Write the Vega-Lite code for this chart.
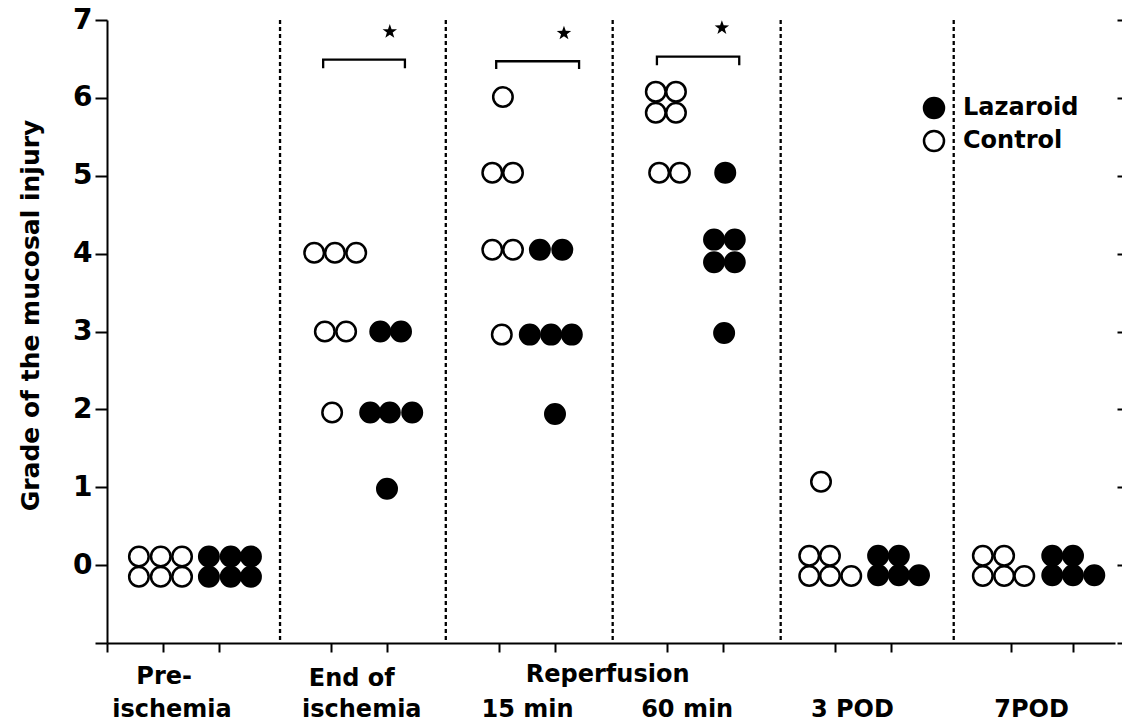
{
  "$schema": "https://vega.github.io/schema/vega-lite/v6.json",
  "width": 1008,
  "height": 623,
  "autosize": {"type": "none"},
  "padding": {"left": 107, "top": 20, "right": 7, "bottom": 85},
  "background": "white",
  "config": {"font": "DejaVu Sans", "view": {"stroke": null}},
  "datasets": {
    "points": [
      {"period": "Pre-ischemia", "group": "Control", "x": 0.57, "y": 0.11},
      {"period": "Pre-ischemia", "group": "Control", "x": 0.96, "y": 0.11},
      {"period": "Pre-ischemia", "group": "Control", "x": 1.34, "y": 0.11},
      {"period": "Pre-ischemia", "group": "Control", "x": 0.57, "y": -0.15},
      {"period": "Pre-ischemia", "group": "Control", "x": 0.96, "y": -0.15},
      {"period": "Pre-ischemia", "group": "Control", "x": 1.34, "y": -0.15},
      {"period": "Pre-ischemia", "group": "Lazaroid", "x": 1.82, "y": 0.11},
      {"period": "Pre-ischemia", "group": "Lazaroid", "x": 2.21, "y": 0.11},
      {"period": "Pre-ischemia", "group": "Lazaroid", "x": 2.57, "y": 0.11},
      {"period": "Pre-ischemia", "group": "Lazaroid", "x": 1.82, "y": -0.15},
      {"period": "Pre-ischemia", "group": "Lazaroid", "x": 2.21, "y": -0.15},
      {"period": "Pre-ischemia", "group": "Lazaroid", "x": 2.57, "y": -0.15},
      {"period": "End of ischemia", "group": "Control", "x": 3.70, "y": 4.01},
      {"period": "End of ischemia", "group": "Control", "x": 4.07, "y": 4.01},
      {"period": "End of ischemia", "group": "Control", "x": 4.45, "y": 4.01},
      {"period": "End of ischemia", "group": "Control", "x": 3.89, "y": 3.0},
      {"period": "End of ischemia", "group": "Control", "x": 4.27, "y": 3.0},
      {"period": "End of ischemia", "group": "Control", "x": 4.02, "y": 1.96},
      {"period": "End of ischemia", "group": "Lazaroid", "x": 4.88, "y": 3.0},
      {"period": "End of ischemia", "group": "Lazaroid", "x": 5.25, "y": 3.0},
      {"period": "End of ischemia", "group": "Lazaroid", "x": 4.70, "y": 1.96},
      {"period": "End of ischemia", "group": "Lazaroid", "x": 5.05, "y": 1.96},
      {"period": "End of ischemia", "group": "Lazaroid", "x": 5.45, "y": 1.96},
      {"period": "End of ischemia", "group": "Lazaroid", "x": 5.0, "y": 0.98},
      {"period": "15 min", "group": "Control", "x": 7.07, "y": 6.01},
      {"period": "15 min", "group": "Control", "x": 6.88, "y": 5.04},
      {"period": "15 min", "group": "Control", "x": 7.25, "y": 5.04},
      {"period": "15 min", "group": "Control", "x": 6.88, "y": 4.05},
      {"period": "15 min", "group": "Control", "x": 7.25, "y": 4.05},
      {"period": "15 min", "group": "Control", "x": 7.05, "y": 2.96},
      {"period": "15 min", "group": "Lazaroid", "x": 7.73, "y": 4.05},
      {"period": "15 min", "group": "Lazaroid", "x": 8.13, "y": 4.05},
      {"period": "15 min", "group": "Lazaroid", "x": 7.55, "y": 2.96},
      {"period": "15 min", "group": "Lazaroid", "x": 7.93, "y": 2.96},
      {"period": "15 min", "group": "Lazaroid", "x": 8.30, "y": 2.96},
      {"period": "15 min", "group": "Lazaroid", "x": 8.0, "y": 1.94},
      {"period": "60 min", "group": "Control", "x": 9.80, "y": 6.08},
      {"period": "60 min", "group": "Control", "x": 10.16, "y": 6.08},
      {"period": "60 min", "group": "Control", "x": 9.80, "y": 5.81},
      {"period": "60 min", "group": "Control", "x": 10.16, "y": 5.81},
      {"period": "60 min", "group": "Control", "x": 9.86, "y": 5.04},
      {"period": "60 min", "group": "Control", "x": 10.23, "y": 5.04},
      {"period": "60 min", "group": "Lazaroid", "x": 11.04, "y": 5.04},
      {"period": "60 min", "group": "Lazaroid", "x": 10.84, "y": 4.18},
      {"period": "60 min", "group": "Lazaroid", "x": 11.21, "y": 4.18},
      {"period": "60 min", "group": "Lazaroid", "x": 10.84, "y": 3.89},
      {"period": "60 min", "group": "Lazaroid", "x": 11.21, "y": 3.89},
      {"period": "60 min", "group": "Lazaroid", "x": 11.02, "y": 2.98},
      {"period": "3 POD", "group": "Control", "x": 12.75, "y": 1.07},
      {"period": "3 POD", "group": "Control", "x": 12.54, "y": 0.12},
      {"period": "3 POD", "group": "Control", "x": 12.91, "y": 0.12},
      {"period": "3 POD", "group": "Control", "x": 12.54, "y": -0.14},
      {"period": "3 POD", "group": "Control", "x": 12.91, "y": -0.14},
      {"period": "3 POD", "group": "Control", "x": 13.29, "y": -0.14},
      {"period": "3 POD", "group": "Lazaroid", "x": 13.77, "y": 0.12},
      {"period": "3 POD", "group": "Lazaroid", "x": 14.14, "y": 0.12},
      {"period": "3 POD", "group": "Lazaroid", "x": 13.77, "y": -0.13},
      {"period": "3 POD", "group": "Lazaroid", "x": 14.14, "y": -0.13},
      {"period": "3 POD", "group": "Lazaroid", "x": 14.5, "y": -0.13},
      {"period": "7POD", "group": "Control", "x": 15.64, "y": 0.12},
      {"period": "7POD", "group": "Control", "x": 16.02, "y": 0.12},
      {"period": "7POD", "group": "Control", "x": 15.64, "y": -0.14},
      {"period": "7POD", "group": "Control", "x": 16.02, "y": -0.14},
      {"period": "7POD", "group": "Control", "x": 16.38, "y": -0.14},
      {"period": "7POD", "group": "Lazaroid", "x": 16.88, "y": 0.12},
      {"period": "7POD", "group": "Lazaroid", "x": 17.25, "y": 0.12},
      {"period": "7POD", "group": "Lazaroid", "x": 16.88, "y": -0.13},
      {"period": "7POD", "group": "Lazaroid", "x": 17.25, "y": -0.13},
      {"period": "7POD", "group": "Lazaroid", "x": 17.63, "y": -0.13}
    ],
    "brackets": [
      {"id": "end", "order": 1, "x": 3.86, "y": 6.38},
      {"id": "end", "order": 2, "x": 3.86, "y": 6.49},
      {"id": "end", "order": 3, "x": 5.32, "y": 6.49},
      {"id": "end", "order": 4, "x": 5.32, "y": 6.38},
      {"id": "r15", "order": 1, "x": 6.95, "y": 6.37},
      {"id": "r15", "order": 2, "x": 6.95, "y": 6.47},
      {"id": "r15", "order": 3, "x": 8.43, "y": 6.47},
      {"id": "r15", "order": 4, "x": 8.43, "y": 6.37},
      {"id": "r60", "order": 1, "x": 9.82, "y": 6.42},
      {"id": "r60", "order": 2, "x": 9.82, "y": 6.53},
      {"id": "r60", "order": 3, "x": 11.29, "y": 6.53},
      {"id": "r60", "order": 4, "x": 11.29, "y": 6.42}
    ],
    "stars": [
      {"x": 5.05, "y": 6.85},
      {"x": 8.16, "y": 6.83},
      {"x": 10.98, "y": 6.90}
    ],
    "dividers": [
      {"x": 3.09}, {"x": 6.05}, {"x": 9.03}, {"x": 12.03}, {"x": 15.12}
    ],
    "labels": [
      {"text": "Pre-", "x": 1.02, "y": -1.53},
      {"text": "ischemia", "x": 1.16, "y": -1.95},
      {"text": "End of", "x": 4.37, "y": -1.55},
      {"text": "ischemia", "x": 4.55, "y": -1.95},
      {"text": "Reperfusion", "x": 8.94, "y": -1.5},
      {"text": "15 min", "x": 7.51, "y": -1.95},
      {"text": "60 min", "x": 10.36, "y": -1.95},
      {"text": "3 POD", "x": 13.31, "y": -1.95},
      {"text": "7POD", "x": 16.51, "y": -1.95}
    ]
  },
  "layer": [
    {
      "data": {"name": "dividers"},
      "mark": {"type": "rule", "color": "black", "strokeWidth": 2.3, "strokeDash": [4, 3]},
      "encoding": {
        "x": {"field": "x", "type": "quantitative", "scale": {"domain": [0, 18], "nice": false, "zero": false},
          "axis": {"orient": "bottom", "values": [0, 1, 2, 4, 5, 7, 8, 10, 11, 13, 14, 16.15, 17.25], "labels": false, "title": null, "grid": false, "domainColor": "black", "domainWidth": 2, "tickColor": "black", "tickWidth": 2, "tickSize": 9}}
      }
    },
    {
      "data": {"name": "brackets"},
      "mark": {"type": "line", "color": "black", "strokeWidth": 2.3},
      "encoding": {
        "x": {"field": "x", "type": "quantitative", "scale": {"domain": [0, 18], "nice": false, "zero": false},
          "axis": {"orient": "bottom", "values": [0, 1, 2, 4, 5, 7, 8, 10, 11, 13, 14, 16.15, 17.25], "labels": false, "title": null, "grid": false, "domainColor": "black", "domainWidth": 2, "tickColor": "black", "tickWidth": 2, "tickSize": 9}},
        "y": {"field": "y", "type": "quantitative", "scale": {"domain": [-1, 7], "nice": false, "zero": false}, "axis": null},
        "detail": {"field": "id"},
        "order": {"field": "order", "type": "quantitative"}
      }
    },
    {
      "data": {"name": "stars"},
      "mark": {"type": "point", "shape": "M0,-1L0.235,-0.324L0.951,-0.309L0.38,0.124L0.588,0.809L0,0.4L-0.588,0.809L-0.38,0.124L-0.951,-0.309L-0.235,-0.324Z", "size": 230, "filled": true, "color": "black", "opacity": 1},
      "encoding": {
        "x": {"field": "x", "type": "quantitative", "scale": {"domain": [0, 18], "nice": false, "zero": false},
          "axis": {"orient": "bottom", "values": [0, 1, 2, 4, 5, 7, 8, 10, 11, 13, 14, 16.15, 17.25], "labels": false, "title": null, "grid": false, "domainColor": "black", "domainWidth": 2, "tickColor": "black", "tickWidth": 2, "tickSize": 9}},
        "y": {"field": "y", "type": "quantitative", "scale": {"domain": [-1, 7], "nice": false, "zero": false},
          "axis": {"orient": "right", "values": [-1, 0, 1, 2, 3, 4, 5, 6, 7], "labels": false, "domain": false, "title": null, "grid": false, "tickColor": "black", "tickWidth": 2, "tickSize": 6, "offset": 2}}
      }
    },
    {
      "data": {"name": "points"},
      "mark": {"type": "point", "shape": "circle", "size": 380, "stroke": "black", "strokeWidth": 2.5, "opacity": 1},
      "encoding": {
        "x": {"field": "x", "type": "quantitative", "scale": {"domain": [0, 18], "nice": false, "zero": false},
          "axis": {"orient": "bottom", "values": [0, 1, 2, 4, 5, 7, 8, 10, 11, 13, 14, 16.15, 17.25], "labels": false, "title": null, "grid": false, "domainColor": "black", "domainWidth": 2, "tickColor": "black", "tickWidth": 2, "tickSize": 9}},
        "y": {"field": "y", "type": "quantitative", "scale": {"domain": [-1, 7], "nice": false, "zero": false},
          "axis": {"orient": "left", "values": [-1, 0, 1, 2, 3, 4, 5, 6, 7], "labelExpr": "datum.value < 0 ? '' : datum.label", "grid": false, "domainColor": "black", "domainWidth": 2, "tickColor": "black", "tickWidth": 2, "tickSize": 12, "labelFontSize": 28, "labelFontWeight": "bold", "labelColor": "black", "labelPadding": 3,
            "title": "Grade of the mucosal injury", "titleFontSize": 25, "titleFontWeight": "bold", "titleColor": "black", "titleAngle": -90, "titleX": -77, "titleY": 295, "titleAlign": "center", "titleBaseline": "middle"}},
        "fill": {"field": "group", "type": "nominal", "scale": {"domain": ["Lazaroid", "Control"], "range": ["black", "white"]},
          "legend": {"title": null, "orient": "none", "legendX": 815, "legendY": 76, "padding": 0, "symbolType": "circle", "symbolSize": 400, "symbolStrokeColor": "black", "symbolStrokeWidth": 2.5, "symbolOpacity": 1, "labelFontSize": 24, "labelFontWeight": "bold", "labelColor": "black", "labelOffset": 17, "rowPadding": 3}}
      }
    },
    {
      "data": {"name": "labels"},
      "mark": {"type": "text", "fontSize": 24, "fontWeight": "bold", "align": "center", "baseline": "alphabetic", "color": "black"},
      "encoding": {
        "x": {"field": "x", "type": "quantitative", "scale": {"domain": [0, 18], "nice": false, "zero": false},
          "axis": {"orient": "bottom", "values": [0, 1, 2, 4, 5, 7, 8, 10, 11, 13, 14, 16.15, 17.25], "labels": false, "title": null, "grid": false, "domainColor": "black", "domainWidth": 2, "tickColor": "black", "tickWidth": 2, "tickSize": 9}},
        "y": {"field": "y", "type": "quantitative", "scale": {"domain": [-1, 7], "nice": false, "zero": false}, "axis": null},
        "text": {"field": "text"}
      }
    }
  ],
  "resolve": {"axis": {"y": "independent"}}
}
